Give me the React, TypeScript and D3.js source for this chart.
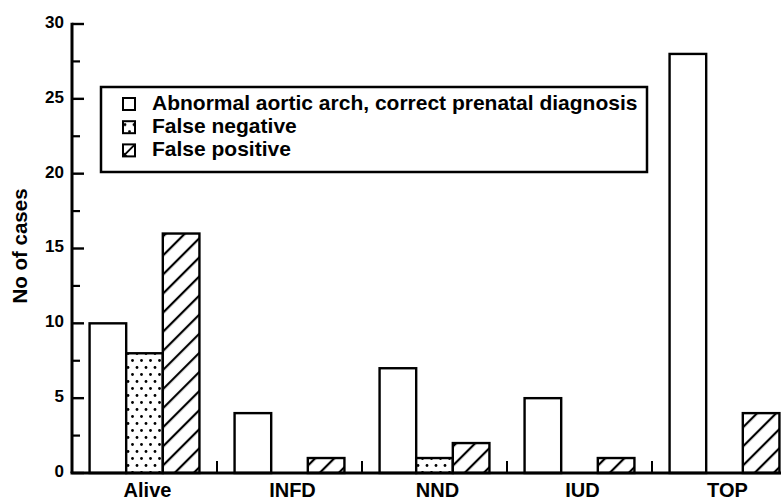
import * as d3 from "d3"
import { useEffect, useRef } from "react"

const categories = ["Alive", "INFD", "NND", "IUD", "TOP"]
const seriesNames = [
  "Abnormal aortic arch, correct prenatal diagnosis",
  "False negative",
  "False positive",
]
const correctDiagnosis = [10, 4, 7, 5, 28]
const falseNegative = [8, 0, 1, 0, 0]
const falsePositive = [16, 1, 2, 1, 4]
const yTicks = [0, 5, 10, 15, 20, 25, 30]
const yMinorTicks = [2.5, 7.5, 12.5, 17.5, 22.5, 27.5]

const FONT = "'Liberation Sans', Arial, Helvetica, sans-serif"

const BarChart = ({ width = 781, height = 501 }) => {
  const svgRef = useRef<SVGSVGElement>(null)

  useEffect(() => {
    if (!svgRef.current) return
    d3.select(svgRef.current).selectAll("*").remove()

    const MARGIN = { top: 24, left: 72, bottom: 28 }
    const svg = d3
      .select(svgRef.current)
      .attr("width", width)
      .attr("height", height)
      .style("font-family", FONT)

    const defs = svg.append("defs")
    // dotted fill
    const dots = defs
      .append("pattern")
      .attr("id", "dots")
      .attr("patternUnits", "userSpaceOnUse")
      .attr("width", 9)
      .attr("height", 14)
    dots.append("rect").attr("width", 9).attr("height", 14).attr("fill", "white")
    dots.append("circle").attr("cx", 2).attr("cy", 3.5).attr("r", 1.4).attr("fill", "black")
    dots.append("circle").attr("cx", 6.5).attr("cy", 10.5).attr("r", 1.4).attr("fill", "black")
    // hatched fill
    const hatch = defs
      .append("pattern")
      .attr("id", "hatch")
      .attr("patternUnits", "userSpaceOnUse")
      .attr("width", 13.5)
      .attr("height", 13.5)
      .attr("patternTransform", "rotate(45)")
    hatch.append("rect").attr("width", 13.5).attr("height", 13.5).attr("fill", "white")
    hatch
      .append("line")
      .attr("x1", 2)
      .attr("y1", 0)
      .attr("x2", 2)
      .attr("y2", 13.5)
      .attr("stroke", "black")
      .attr("stroke-width", 2.2)

    const fills = ["white", "url(#dots)", "url(#hatch)"]
    const values = [correctDiagnosis, falseNegative, falsePositive]

    const x0 = d3
      .scaleBand<string>()
      .domain(categories)
      .range([MARGIN.left, MARGIN.left + 145 * categories.length])
    const x1 = d3
      .scaleBand<number>()
      .domain([0, 1, 2])
      .range([0, x0.bandwidth()])
      .paddingOuter(0.48)
    const yScale = d3
      .scaleLinear()
      .domain([0, 30])
      .range([height - MARGIN.bottom, MARGIN.top])

    // bars
    const groups = svg
      .selectAll("g.cat")
      .data(categories)
      .join("g")
      .attr("class", "cat")
      .attr("transform", (d) => `translate(${x0(d)}, 0)`)
    groups
      .selectAll("rect")
      .data((_, i) => values.map((v, s) => ({ s, v: v[i] })).filter((d) => d.v > 0))
      .join("rect")
      .attr("x", (d) => x1(d.s) as number)
      .attr("y", (d) => yScale(d.v))
      .attr("width", x1.bandwidth())
      .attr("height", (d) => yScale(0) - yScale(d.v))
      .attr("fill", (d) => fills[d.s])
      .attr("stroke", "black")
      .attr("stroke-width", 2.4)

    // y axis
    svg
      .append("line")
      .attr("x1", MARGIN.left)
      .attr("x2", MARGIN.left)
      .attr("y1", yScale(30) - 1.2)
      .attr("y2", yScale(0))
      .attr("stroke", "black")
      .attr("stroke-width", 3)
    svg
      .selectAll("line.major")
      .data(yTicks)
      .join("line")
      .attr("class", "major")
      .attr("x1", MARGIN.left)
      .attr("x2", MARGIN.left + 12)
      .attr("y1", (d) => yScale(d))
      .attr("y2", (d) => yScale(d))
      .attr("stroke", "black")
      .attr("stroke-width", 2.4)
    svg
      .selectAll("line.minor")
      .data(yMinorTicks)
      .join("line")
      .attr("class", "minor")
      .attr("x1", MARGIN.left)
      .attr("x2", MARGIN.left + 8)
      .attr("y1", (d) => yScale(d))
      .attr("y2", (d) => yScale(d))
      .attr("stroke", "black")
      .attr("stroke-width", 2.2)
    svg
      .selectAll("text.ytick")
      .data(yTicks)
      .join("text")
      .attr("class", "ytick")
      .attr("x", MARGIN.left - 8)
      .attr("y", (d) => yScale(d) - 2)
      .attr("dy", "0.35em")
      .attr("text-anchor", "end")
      .attr("font-size", "17px")
      .attr("font-weight", "bold")
      .text((d) => d)

    svg
      .append("text")
      .attr("text-anchor", "middle")
      .attr("transform", `translate(27, 246) rotate(-90)`)
      .attr("font-size", "20.5px")
      .attr("font-weight", "bold")
      .text("No of cases")

    // x axis
    svg
      .append("line")
      .attr("x1", MARGIN.left - 1.5)
      .attr("x2", width)
      .attr("y1", yScale(0))
      .attr("y2", yScale(0))
      .attr("stroke", "black")
      .attr("stroke-width", 3)
    svg
      .selectAll("line.sep")
      .data(categories.slice(1))
      .join("line")
      .attr("class", "sep")
      .attr("x1", (d) => x0(d) as number)
      .attr("x2", (d) => x0(d) as number)
      .attr("y1", yScale(0))
      .attr("y2", yScale(0) - 12)
      .attr("stroke", "black")
      .attr("stroke-width", 2)
    svg
      .selectAll("text.xlab")
      .data(categories)
      .join("text")
      .attr("class", "xlab")
      .attr("x", (d) => (x0(d) as number) + x0.bandwidth() / 2 + 3)
      .attr("y", 497)
      .attr("text-anchor", "middle")
      .attr("font-size", "20px")
      .attr("font-weight", "bold")
      .text((d) => d)

    // legend
    const legend = svg.append("g")
    legend
      .append("rect")
      .attr("x", 101)
      .attr("y", 87)
      .attr("width", 546)
      .attr("height", 85)
      .attr("fill", "white")
      .attr("stroke", "black")
      .attr("stroke-width", 2.5)
    const items = legend
      .selectAll("g.item")
      .data(seriesNames)
      .join("g")
      .attr("class", "item")
      .attr("transform", (_, i) => `translate(123, ${98 + i * 23.2})`)
    items
      .append("rect")
      .attr("width", 12)
      .attr("height", 12)
      .attr("fill", (_, i) => (i === 2 ? "white" : fills[i]))
      .attr("stroke", "black")
      .attr("stroke-width", 2)
    // small hatch key: one diagonal and a dark corner
    const hatchKey = items.filter((_, i) => i === 2)
    hatchKey
      .append("path")
      .attr("d", "M0,12 L0,7 L5,12 Z")
      .attr("fill", "black")
    hatchKey
      .append("line")
      .attr("x1", 0)
      .attr("y1", 12)
      .attr("x2", 12)
      .attr("y2", 0)
      .attr("stroke", "black")
      .attr("stroke-width", 2)
    items
      .append("text")
      .attr("x", 29)
      .attr("y", 11.5)
      .attr("font-size", "21px")
      .attr("font-weight", "bold")
      .text((d) => d)
  }, [width, height])

  return (
    <svg
      ref={svgRef}
      style={{ position: "absolute", left: 0, top: 0, display: "block", background: "white" }}
    />
  )
}

export default function App() {
  return <BarChart width={781} height={501} />
}
